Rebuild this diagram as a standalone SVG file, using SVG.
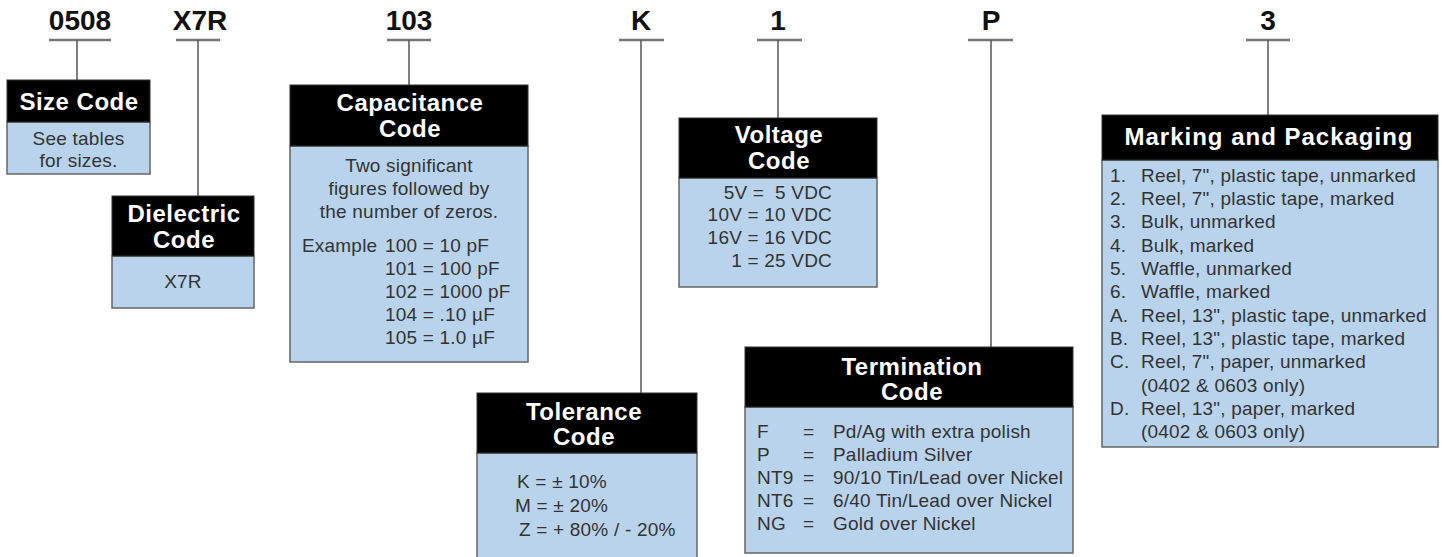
<svg xmlns="http://www.w3.org/2000/svg" width="1442" height="557" viewBox="0 0 1442 557">
<style>
.lbl{font-family:"Liberation Sans",Arial,sans-serif;font-weight:bold;font-size:28px;fill:#111;text-anchor:middle}
.hd{font-family:"Liberation Sans",Arial,sans-serif;font-weight:bold;font-size:24px;letter-spacing:0.5px;fill:#fff;text-anchor:middle}
.bd{font-family:"Liberation Sans",Arial,sans-serif;font-size:19px;letter-spacing:0.2px;fill:#333}
.c{text-anchor:middle}
.e{text-anchor:end}
.hbox{fill:#000;stroke:#333;stroke-width:1}
.bbox{fill:#b9d3ec;stroke:#666;stroke-width:1.5}
.ul{stroke:#777;stroke-width:2.5;fill:none}
.vl{stroke:#555;stroke-width:1.5;fill:none}
</style>
<rect width="1442" height="557" fill="#fff"/>
<g id="connectors">
<line class="ul" x1="49" y1="40" x2="111" y2="40"/><line class="vl" x1="77" y1="40" x2="77" y2="80"/>
<line class="ul" x1="176" y1="40" x2="220" y2="40"/><line class="vl" x1="198" y1="40" x2="198" y2="196"/>
<line class="ul" x1="387" y1="40" x2="431" y2="40"/><line class="vl" x1="409" y1="40" x2="409" y2="85"/>
<line class="ul" x1="619" y1="40" x2="664" y2="40"/><line class="vl" x1="641" y1="40" x2="641" y2="393"/>
<line class="ul" x1="757" y1="40" x2="802" y2="40"/><line class="vl" x1="778" y1="40" x2="778" y2="118"/>
<line class="ul" x1="968" y1="40" x2="1013" y2="40"/><line class="vl" x1="991" y1="40" x2="991" y2="347"/>
<line class="ul" x1="1246" y1="40" x2="1290" y2="40"/><line class="vl" x1="1268" y1="40" x2="1268" y2="115"/>
</g>
<g id="labels">
<text class="lbl" x="80" y="30">0508</text>
<text class="lbl" x="200" y="30">X7R</text>
<text class="lbl" x="409" y="30">103</text>
<text class="lbl" x="641" y="30">K</text>
<text class="lbl" x="778" y="30">1</text>
<text class="lbl" x="991" y="30">P</text>
<text class="lbl" x="1268" y="30">3</text>
</g>
<g id="size-code">
<rect class="bbox" x="7" y="122" width="143" height="52"/>
<rect class="hbox" x="7" y="80" width="143" height="42"/>
<text class="hd" x="79" y="110">Size Code</text>
<text class="bd c" x="78.5" y="145">See tables</text>
<text class="bd c" x="78.5" y="167">for sizes.</text>
</g>
<g id="dielectric-code">
<rect class="bbox" x="112" y="256" width="142" height="52"/>
<rect class="hbox" x="112" y="196" width="142" height="60"/>
<text class="hd"><tspan x="184" y="222">Dielectric</tspan><tspan x="184" y="248">Code</tspan></text>
<text class="bd c" x="183" y="288">X7R</text>
</g>
<g id="capacitance-code">
<rect class="bbox" x="290" y="146" width="238" height="216"/>
<rect class="hbox" x="290" y="85" width="238" height="61"/>
<text class="hd"><tspan x="410" y="111">Capacitance</tspan><tspan x="410" y="137">Code</tspan></text>
<text class="bd c" x="409" y="172">Two significant</text>
<text class="bd c" x="409" y="195">figures followed by</text>
<text class="bd c" x="409" y="218">the number of zeros.</text>
<text class="bd" x="302" y="252">Example</text>
<text class="bd" x="385" y="252">100 = 10 pF</text>
<text class="bd" x="385" y="275">101 = 100 pF</text>
<text class="bd" x="385" y="298">102 = 1000 pF</text>
<text class="bd" x="385" y="321">104 = .10 µF</text>
<text class="bd" x="385" y="344">105 = 1.0 µF</text>
</g>
<g id="tolerance-code">
<rect class="bbox" x="477" y="453" width="220" height="110"/>
<rect class="hbox" x="477" y="393" width="220" height="60"/>
<text class="hd"><tspan x="584" y="420">Tolerance</tspan><tspan x="584" y="445">Code</tspan></text>
<text class="bd" x="517" y="488">K = ± 10%</text>
<text class="bd" x="515" y="512">M = ± 20%</text>
<text class="bd" x="519" y="536">Z = + 80% / - 20%</text>
</g>
<g id="voltage-code">
<rect class="bbox" x="679" y="178" width="198" height="109"/>
<rect class="hbox" x="679" y="118" width="198" height="60"/>
<text class="hd"><tspan x="779" y="143">Voltage</tspan><tspan x="779" y="169">Code</tspan></text>
<text class="bd e" x="832" y="199" xml:space="preserve">5V =  5 VDC</text>
<text class="bd e" x="832" y="221">10V = 10 VDC</text>
<text class="bd e" x="832" y="244">16V = 16 VDC</text>
<text class="bd e" x="832" y="267">1 = 25 VDC</text>
</g>
<g id="termination-code">
<rect class="bbox" x="745" y="407" width="328" height="146"/>
<rect class="hbox" x="745" y="347" width="328" height="60"/>
<text class="hd"><tspan x="912" y="375">Termination</tspan><tspan x="912" y="400">Code</tspan></text>
<text class="bd" x="757" y="438">F</text><text class="bd" x="803" y="438">=</text><text class="bd" x="833" y="438">Pd/Ag with extra polish</text>
<text class="bd" x="757" y="461">P</text><text class="bd" x="803" y="461">=</text><text class="bd" x="833" y="461">Palladium Silver</text>
<text class="bd" x="757" y="484">NT9</text><text class="bd" x="803" y="484">=</text><text class="bd" x="833" y="484">90/10 Tin/Lead over Nickel</text>
<text class="bd" x="757" y="507">NT6</text><text class="bd" x="803" y="507">=</text><text class="bd" x="833" y="507">6/40 Tin/Lead over Nickel</text>
<text class="bd" x="757" y="530">NG</text><text class="bd" x="803" y="530">=</text><text class="bd" x="833" y="530">Gold over Nickel</text>
</g>
<g id="marking-packaging">
<rect class="bbox" x="1102" y="160" width="336" height="287"/>
<rect class="hbox" x="1102" y="115" width="336" height="45"/>
<text class="hd" x="1269" y="145" style="letter-spacing:1px">Marking and Packaging</text>
<text class="bd" x="1110" y="181.5">1.</text><text class="bd" x="1141" y="181.5">Reel, 7", plastic tape, unmarked</text>
<text class="bd" x="1110" y="204.8">2.</text><text class="bd" x="1141" y="204.8">Reel, 7", plastic tape, marked</text>
<text class="bd" x="1110" y="228.2">3.</text><text class="bd" x="1141" y="228.2">Bulk, unmarked</text>
<text class="bd" x="1110" y="251.5">4.</text><text class="bd" x="1141" y="251.5">Bulk, marked</text>
<text class="bd" x="1110" y="274.8">5.</text><text class="bd" x="1141" y="274.8">Waffle, unmarked</text>
<text class="bd" x="1110" y="298.2">6.</text><text class="bd" x="1141" y="298.2">Waffle, marked</text>
<text class="bd" x="1110" y="321.5">A.</text><text class="bd" x="1141" y="321.5">Reel, 13", plastic tape, unmarked</text>
<text class="bd" x="1110" y="344.8">B.</text><text class="bd" x="1141" y="344.8">Reel, 13", plastic tape, marked</text>
<text class="bd" x="1110" y="368.2">C.</text><text class="bd" x="1141" y="368.2">Reel, 7", paper, unmarked</text>
<text class="bd" x="1141" y="391.5">(0402 &amp; 0603 only)</text>
<text class="bd" x="1110" y="414.8">D.</text><text class="bd" x="1141" y="414.8">Reel, 13", paper, marked</text>
<text class="bd" x="1141" y="438.2">(0402 &amp; 0603 only)</text>
</g>
</svg>
